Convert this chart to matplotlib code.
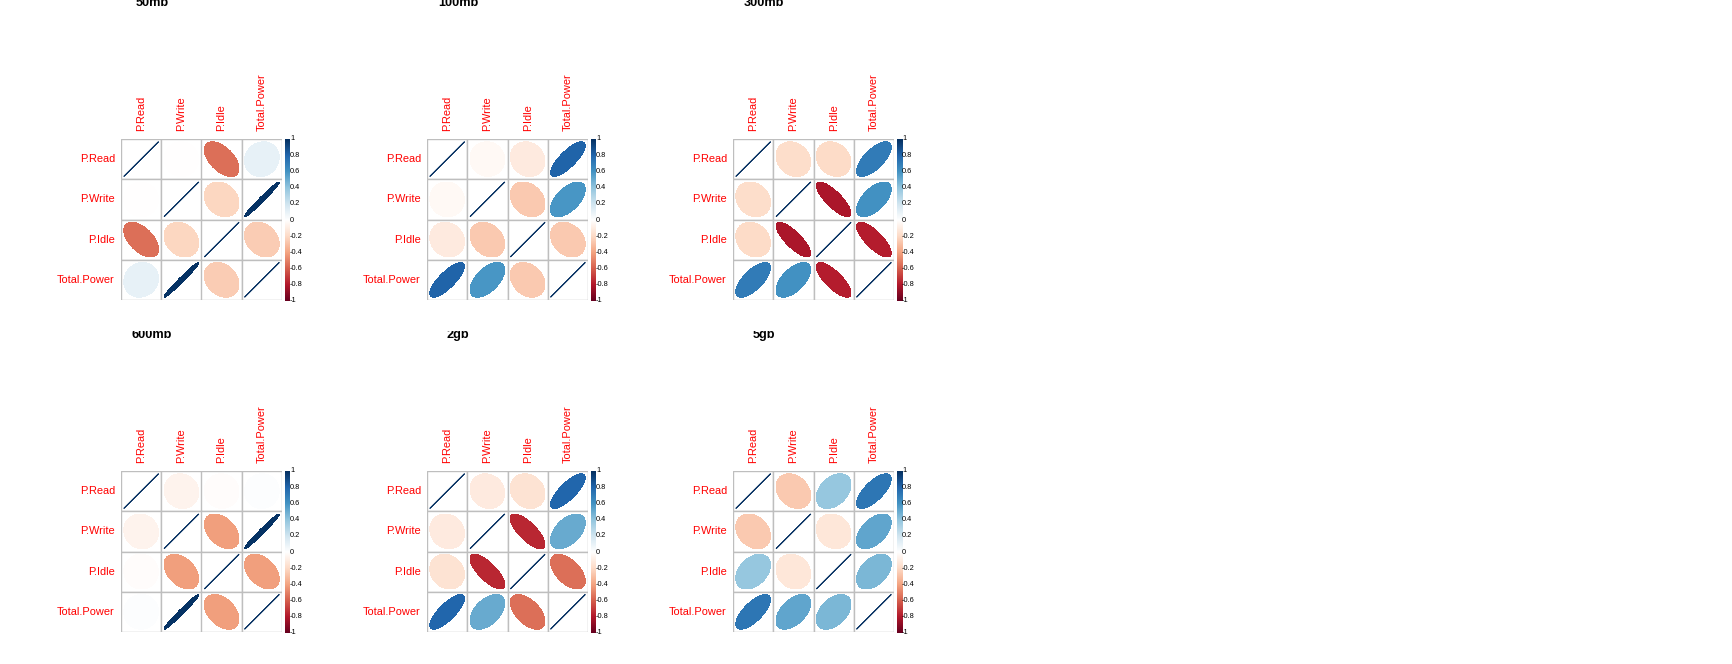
import numpy as np
import matplotlib
matplotlib.use("Agg")
import matplotlib.pyplot as plt
from matplotlib.colors import LinearSegmentedColormap
from matplotlib.patches import Polygon, Rectangle

plt.rcParams['font.family'] = ['Liberation Sans', 'DejaVu Sans']

# variable names and panel titles
labels = ["P.Read", "P.Write", "P.Idle", "Total.Power"]
titles = ["50mb", "100mb", "300mb", "600mb", "2gb", "5gb"]

# upper triangle of each correlation matrix:
# (Read-Write, Read-Idle, Read-Total, Write-Idle, Write-Total, Idle-Total)
cor_50mb = [-0.01, -0.55, 0.10, -0.22, 0.985, -0.26]
cor_100mb = [-0.04, -0.12, 0.80, -0.27, 0.58, -0.27]
cor_300mb = [-0.19, -0.20, 0.70, -0.81, 0.60, -0.78]
cor_600mb = [-0.07, -0.02, 0.01, -0.42, 0.985, -0.42]
cor_2gb = [-0.12, -0.16, 0.79, -0.76, 0.50, -0.55]
cor_5gb = [-0.27, 0.38, 0.72, -0.14, 0.52, 0.45]
all_cors = [cor_50mb, cor_100mb, cor_300mb, cor_600mb, cor_2gb, cor_5gb]

bar_ticks = [1, 0.8, 0.6, 0.4, 0.2, 0, -0.2, -0.4, -0.6, -0.8, -1]
bar_labels = ["1", "0.8", "0.6", "0.4", "0.2", "0", "-0.2", "-0.4", "-0.6", "-0.8", "-1"]

# corrplot's RdBu palette
col2 = ["#67001F", "#B2182B", "#D6604D", "#F4A582", "#FDDBC7", "#FFFFFF",
        "#D1E5F0", "#92C5DE", "#4393C3", "#2166AC", "#053061"]
cmap = LinearSegmentedColormap.from_list("corrRdBu", col2, N=200)

W, H = 1732, 664
fig = plt.figure(figsize=(W / 100, H / 100), dpi=100)


def px_axes(x, y, w, h):
    # axes placed by pixel box measured from the top-left corner
    return fig.add_axes([x / W, 1 - (y + h) / H, w / W, h / H])


def full_matrix(up):
    m = np.eye(4)
    idx = [(0, 1), (0, 2), (0, 3), (1, 2), (1, 3), (2, 3)]
    for (i, j), v in zip(idx, up):
        m[i, j] = v
        m[j, i] = v
    return m


grid_left = [121, 427, 733]
grid_top = [139, 471]
size = 161
lab_fs = 7.9

k = np.linspace(0, 2 * np.pi, 99)

for p in range(6):
    gx = grid_left[p % 3]
    gy = grid_top[p // 3]
    m = full_matrix(all_cors[p])

    ax = px_axes(gx, gy, size, size)
    ax.set_xlim(0, 4)
    ax.set_ylim(0, 4)
    ax.axis("off")

    for i in range(4):
        for j in range(4):
            cx = j + 0.5
            cy = 3.5 - i
            r = m[i, j]
            ax.add_patch(Rectangle((j, 3 - i), 1, 1, facecolor="white",
                                   edgecolor="#BEBEBE", lw=1.0, zorder=1))
            # corrplot ellipse
            a = np.arccos(np.clip(r, -1, 1))
            ex = cx + 0.85 * np.cos(k + a / 2) / 2
            ey = cy + 0.85 * np.cos(k - a / 2) / 2
            c = cmap((r + 1) / 2)
            if r >= 0.999:
                ax.plot(ex, ey, color=c, lw=0.7, zorder=2)
            else:
                ax.add_patch(Polygon(np.column_stack([ex, ey]), closed=True,
                                     facecolor=c, edgecolor=c, lw=0.3,
                                     antialiased=False, zorder=2))

    for i, name in enumerate(labels):
        ax.text(-0.15, 3.5 - i, name, ha="right", va="center", color="red",
                fontsize=lab_fs, clip_on=False)
        ax.text(i + 0.5, 4.2, name, ha="center", va="bottom", rotation=90,
                color="red", fontsize=lab_fs, clip_on=False)

    # colour legend
    cax = px_axes(gx + size + 3, gy, 5, size + 1)
    grad = np.linspace(1, -1, 200).reshape(-1, 1)
    cax.imshow(grad, cmap=cmap, vmin=-1, vmax=1, aspect="auto",
               extent=[0, 1, -1, 1])
    cax.set_xlim(0, 1)
    cax.set_ylim(-1, 1)
    cax.axis("off")
    for t, lab in zip(bar_ticks, bar_labels):
        cax.text(1.0, t, lab, ha="left", va="center", fontsize=5.3,
                 color="black", clip_on=False)

    # titles, clipped at the top like the original
    if p < 3:
        tax = px_axes(gx - 60, 0, 180, 20)
        base = 5.7
    else:
        tax = px_axes(gx - 60, 331, 180, 20)
        base = 7.3
    tax.set_xlim(0, 180)
    tax.set_ylim(20, 0)
    tax.axis("off")
    tax.text(91, base, titles[p], ha="center", va="baseline",
             fontsize=9.2, fontweight="bold", clip_on=True)

fig.savefig("out.png", dpi=100, facecolor="white")
